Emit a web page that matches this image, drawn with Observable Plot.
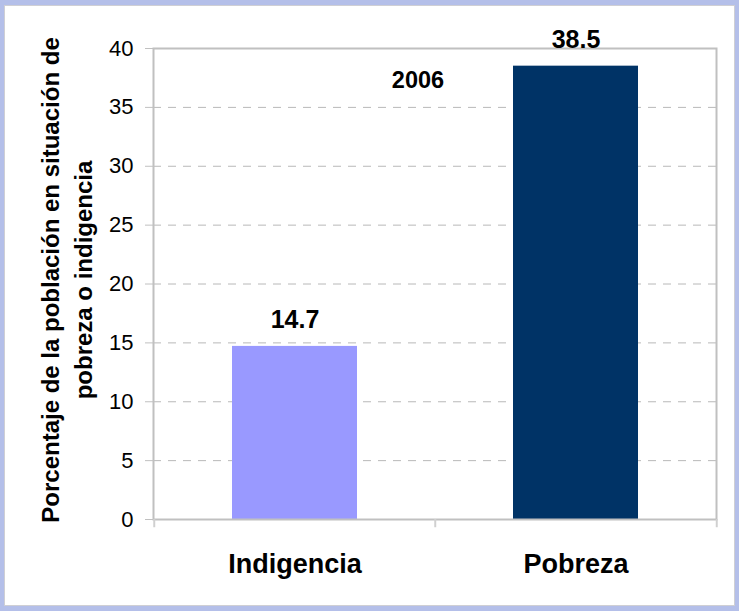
<!DOCTYPE html>
<html>
<head>
<meta charset="utf-8">
<script src="https://cdn.jsdelivr.net/npm/d3@7"></script>
<script src="https://cdn.jsdelivr.net/npm/@observablehq/plot@0.6"></script>
<style>
  html, body { margin: 0; padding: 0; background: #ffffff; }
  #wrap { position: relative; width: 739px; height: 611px; overflow: hidden; background: #ffffff; }
  #border { position: absolute; left: 0; top: 0; width: 739px; height: 611px; box-sizing: border-box;
    border-style: solid; border-color: #b4bfe9; border-width: 5px 4px 5px 4px;
    box-shadow: inset 0 0 0 1px #cfcfd4; pointer-events: none; }
  svg { display: block; }
</style>
</head>
<body>
<div id="wrap"><div id="border"></div></div>
<script>
const categories = ["Indigencia", "Pobreza"];
const values = [14.7, 38.5];
const barColors = ["#9999ff", "#003366"];
const yTicks = [0, 5, 10, 15, 20, 25, 30, 35, 40];
const yearLabel = "2006";
const yTitle = "Porcentaje de la población en situación de\npobreza o indigencia";

const data = categories.map((c, i) => ({cat: c, value: values[i]}));

const xOpts = {type: "band", domain: categories, range: [153, 716], paddingInner: 0.556, paddingOuter: 0.278};
const xs = Plot.scale({x: xOpts});
const half = xs.step / 2;

const plot = Plot.plot({
  width: 739,
  height: 611,
  marginLeft: 153,
  marginRight: 23,
  marginTop: 48,
  marginBottom: 92,
  style: {fontFamily: "'Liberation Sans', Arial, sans-serif", background: "#ffffff", color: "#000"},
  x: {domain: categories, paddingInner: 0.556, paddingOuter: 0.278, axis: null},
  y: {domain: [0, 40], axis: null},
  color: {domain: categories, range: barColors},
  marks: [
    Plot.gridY(yTicks.filter(t => t > 0 && t < 40), {stroke: "#b8b8b8", strokeOpacity: 1, strokeWidth: 1, strokeDasharray: "8,7"}),
    Plot.barY(data, {x: "cat", y: "value", fill: "cat"}),
    Plot.frame({stroke: "#c0c0c0", strokeWidth: 2}),
    Plot.ruleX(categories, {x: d => d, dx: -half, y1: 0, y2: -0.7, stroke: "#d0d0d0", strokeWidth: 2}),
    Plot.ruleX([categories[categories.length - 1]], {x: d => d, dx: half, y1: 0, y2: -0.7, stroke: "#d0d0d0", strokeWidth: 2}),
    Plot.axisY({ticks: yTicks, tickSize: 8, tickPadding: 12, fontSize: 22, stroke: "#c0c0c0", fill: "#000", label: null}),
    Plot.axisX({tickSize: 0, tickPadding: 34, fontSize: 27, fontWeight: "bold", fill: "#000", label: null, style: {letterSpacing: "0.6px"}}),
    Plot.text(data, {x: "cat", y: "value", text: d => d.value.toFixed(1), dy: -18, lineAnchor: "bottom", fontSize: 25, fontWeight: "bold", fill: "#000"}),
    Plot.text([yearLabel], {frameAnchor: "top", dx: -17, dy: 39, lineAnchor: "bottom", fontSize: 23.5, fontWeight: "bold", fill: "#000"}),
    Plot.text([yTitle], {frameAnchor: "left", rotate: -90, dx: -89, dy: -4, textAnchor: "middle", lineAnchor: "middle", lineHeight: 1.375, fontSize: 24, fontWeight: "bold", fill: "#000", wordSpacing: "2px"})
  ]
});
document.getElementById("wrap").insertBefore(plot, document.getElementById("border"));
</script>
</body>
</html>
